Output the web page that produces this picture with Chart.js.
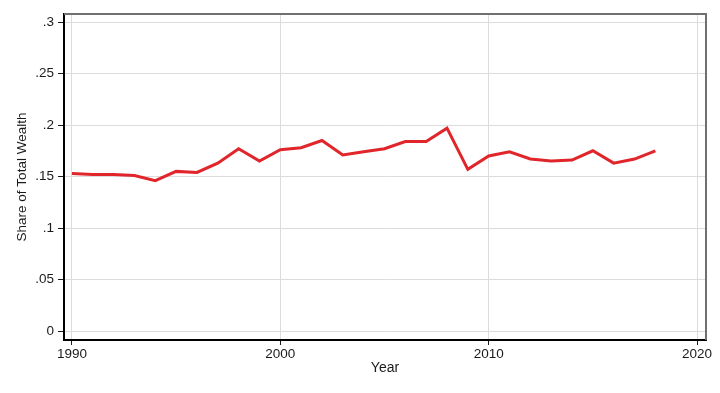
<!DOCTYPE html>
<html>
<head>
<meta charset="utf-8">
<script src="https://cdn.jsdelivr.net/npm/chart.js@4"></script>
<style>
    html, body { margin: 0; padding: 0; background: #fff; }
    #wrap { width: 720px; height: 393px; }
</style>
</head>
<body>
<div id="wrap"><canvas id="wealthChart" width="720" height="393"></canvas></div>
<script>
const years = [1990, 1991, 1992, 1993, 1994, 1995, 1996, 1997, 1998, 1999,
    2000, 2001, 2002, 2003, 2004, 2005, 2006, 2007, 2008, 2009,
    2010, 2011, 2012, 2013, 2014, 2015, 2016, 2017, 2018];
const wealthShare = [0.153, 0.152, 0.152, 0.151, 0.146, 0.155, 0.154, 0.163, 0.177, 0.165,
    0.176, 0.178, 0.185, 0.171, 0.174, 0.177, 0.184, 0.184, 0.197, 0.157,
    0.170, 0.174, 0.167, 0.165, 0.166, 0.175, 0.163, 0.167, 0.175];
const xTickValues = [1990, 2000, 2010, 2020];
const yTickValues = [0, 0.05, 0.1, 0.15, 0.2, 0.25, 0.3];
const yTickLabels = ['0', '.05', '.1', '.15', '.2', '.25', '.3'];

const textColor = '#1a1a1a';
const gridColor = '#dcdcdc';
const fontFamily = '"Liberation Sans", Arial, sans-serif';

// top and right frame lines (grey, like the Stata plot region)
const frame = {
    id: 'frame',
    afterDraw(chart) {
        const { ctx, chartArea: a } = chart;
        ctx.save();
        ctx.strokeStyle = '#707070';
        ctx.lineWidth = 2;
        ctx.beginPath();
        ctx.moveTo(a.left, a.top);
        ctx.lineTo(a.right, a.top);
        ctx.lineTo(a.right, a.bottom);
        ctx.stroke();
        ctx.restore();
    }
};

new Chart(document.getElementById('wealthChart'), {
    type: 'line',
    data: {
        datasets: [{
            data: years.map((y, i) => ({ x: y, y: wealthShare[i] })),
            borderColor: '#e0262b',
            borderWidth: 3,
            pointRadius: 0,
            tension: 0,
            fill: false
        }]
    },
    options: {
        responsive: false,
        animation: false,
        layout: { padding: { left: 0, right: 14, top: 14, bottom: 0 } },
        plugins: {
            legend: { display: false },
            tooltip: { enabled: false }
        },
        scales: {
            x: {
                type: 'linear',
                min: 1989.62,
                max: 2020.43,
                afterBuildTicks: scale => { scale.ticks = xTickValues.map(v => ({ value: v })); },
                afterFit: scale => { scale.height = 53; },
                grid: { color: gridColor, lineWidth: 1, tickColor: textColor, tickLength: 5 },
                border: { display: true, color: '#000', width: 2 },
                ticks: {
                    color: textColor,
                    padding: 1,
                    maxRotation: 0,
                    font: { family: fontFamily, size: 13.5 },
                    callback: v => String(v)
                },
                title: {
                    display: true,
                    text: 'Year',
                    color: textColor,
                    font: { family: fontFamily, size: 14 },
                    padding: { top: 0, bottom: 16.6 }
                }
            },
            y: {
                min: -0.0087,
                max: 0.3078,
                afterBuildTicks: scale => { scale.ticks = yTickValues.map(v => ({ value: v })); },
                afterFit: scale => { scale.width = 64; },
                grid: { color: gridColor, lineWidth: 1, tickColor: textColor, tickLength: 6 },
                border: { display: true, color: '#000', width: 2 },
                ticks: {
                    color: textColor,
                    padding: 4,
                    font: { family: fontFamily, size: 13.5 },
                    callback: v => yTickLabels[yTickValues.indexOf(v)] ?? ''
                },
                title: {
                    display: true,
                    text: 'Share of Total Wealth',
                    color: textColor,
                    font: { family: fontFamily, size: 13.5 },
                    padding: { top: 14, bottom: 0 }
                }
            }
        }
    },
    plugins: [frame]
});
</script>
</body>
</html>
